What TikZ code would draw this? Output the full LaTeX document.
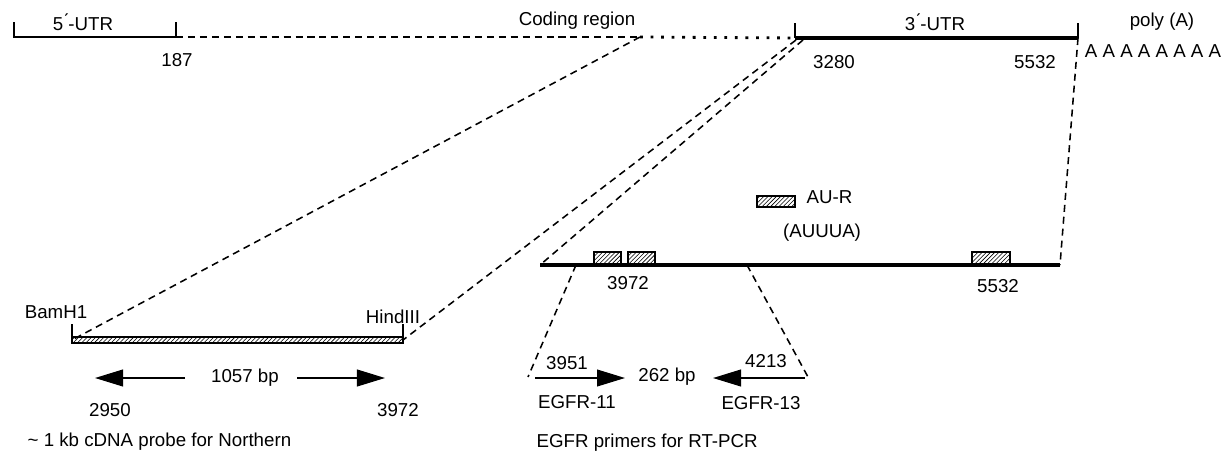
\documentclass[tikz,border=0pt]{standalone}
\usepackage{fontspec}
\setmainfont{Liberation Sans}
\usetikzlibrary{arrows.meta,patterns}
\tikzset{>=stealth}
\colorlet{background}{white}
\colorlet{penColor}{black}
\tikzset{
  thinline/.style={penColor, line width=1.1pt},
  thickline/.style={penColor, line width=2.4pt},
  dashline/.style={penColor, line width=1.1pt, dash pattern=on 5pt off 3.5pt},
  dotline/.style={penColor, line width=2pt, dash pattern=on 2pt off 5.5pt},
  hatchbox/.style={draw=penColor, line width=1.2pt, pattern=north east lines},
  bigarrow/.style={penColor, line width=1.1pt, -{Triangle[length=0.7cm,width=0.42cm]}},
  lbl/.style={inner sep=1pt, font=\fontsize{13.3}{15}\selectfont}
}
\begin{document}
\begin{tikzpicture}[x=0.025cm,y=-0.025cm]
  \useasboundingbox (0,0) rectangle (1223,454);
  % top: mRNA map
  \coordinate (U5a) at (14,37);
  \coordinate (U5b) at (176,37);
  \coordinate (CRa) at (640,37);
  \coordinate (U3a) at (795,38);
  \coordinate (U3b) at (1078,38);
  \draw[thinline] (14,22) -- (U5a) -- (U5b) -- (176,22);
  \draw[dashline] (U5b) -- (CRa);
  \draw[dotline] (CRa) -- (U3a);
  \draw[thickline] (U3a) -- (U3b);
  \draw[thinline] (U3a) -- (795,23);
  \draw[thinline] (U3b) -- (1078,23);
  \node[lbl] (utr5) at (83,22) {5\'{}-UTR};
  \node[lbl] (n187) at (177,60) {187};
  \node[lbl] (coding) at (577,21) {Coding region};
  \node[lbl] (utr3) at (935,22) {3\'{}-UTR};
  \node[lbl] (n3280) at (834,62) {3280};
  \node[lbl] (n5532a) at (1035,62) {5532};
  \node[lbl] (polyA) at (1162,22) {poly (A)};
  \node[lbl] (As) at (1153,51) {A A A A A A A A};

  % 3'-UTR expanded
  \coordinate (La) at (540,265);
  \coordinate (Lb) at (1060,265);
  \draw[thickline] (La) -- (Lb);
  \draw[hatchbox] (594,252) rectangle (621,264);
  \draw[hatchbox] (628,252) rectangle (655,264);
  \draw[hatchbox] (972,252) rectangle (1010,264);
  \draw[hatchbox] (757,196) rectangle (795,207);
  \node[lbl,anchor=west] (aur) at (805,197) {AU-R};
  \node[lbl] (auuua) at (822,233) {(AUUUA)};
  \node[lbl] (n3972a) at (628,283) {3972};
  \node[lbl] (n5532b) at (998,286) {5532};
  \draw[dashline] (U3b) -- (Lb);
  \draw[dashline] (803,40) -- (La);

  % probe
  \coordinate (Pa) at (72,340);
  \coordinate (Pb) at (403,340);
  \draw[hatchbox] (72,337) rectangle (403,343);
  \draw[thinline] (Pa) -- (72,324);
  \draw[thinline] (Pb) -- (403,324);
  \draw[dashline] (CRa) -- (Pa);
  \draw[dashline] (796,40) -- (Pb);
  \node[lbl] (bam) at (56,312) {BamH1};
  \node[lbl] (hind) at (393,317) {HindIII};
  \node[lbl] (bp1057) at (245,378) {1057 bp};
  \draw[bigarrow] (185,378) -- (95,378);
  \draw[bigarrow] (297,378) -- (385,378);
  \node[lbl] (n2950) at (110,410) {2950};
  \node[lbl] (n3972b) at (398,410) {3972};
  \node[lbl,anchor=west] (probe) at (26,442) {\textasciitilde{} 1 kb cDNA probe for Northern};

  % primers
  \coordinate (Ea) at (576,265);
  \coordinate (Eb) at (747,265);
  \coordinate (Fa) at (528,377);
  \coordinate (Fb) at (808,377);
  \draw[dashline] (Ea) -- (Fa);
  \draw[dashline] (Eb) -- (Fb);
  \draw[bigarrow] (535,378) -- (625,378);
  \draw[bigarrow] (805,378) -- (713,378);
  \node[lbl] (n3951) at (567,363) {3951};
  \node[lbl] (n4213) at (766,361) {4213};
  \node[lbl] (bp262) at (667,377) {262 bp};
  \node[lbl] (egfr11) at (577,402) {EGFR-11};
  \node[lbl] (egfr13) at (761,403) {EGFR-13};
  \node[lbl,anchor=west] (primers) at (535,443) {EGFR primers for RT-PCR};
\end{tikzpicture}
\end{document}
